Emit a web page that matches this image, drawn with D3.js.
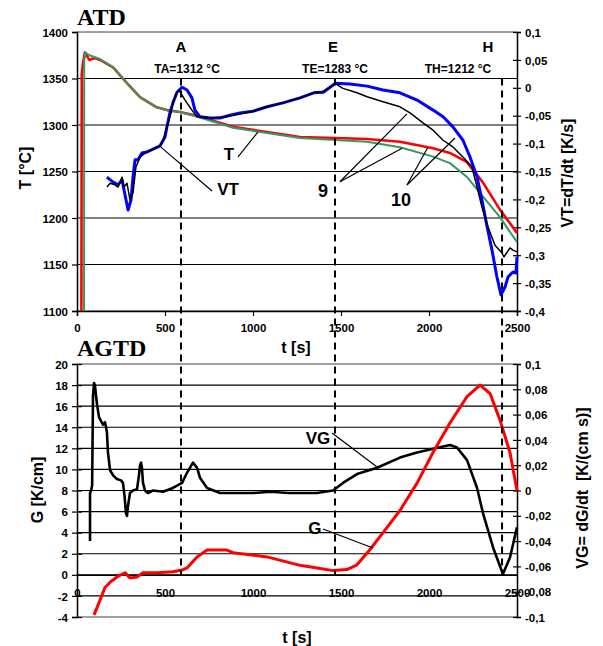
<!DOCTYPE html>
<html>
<head>
<meta charset="utf-8">
<script src="https://cdn.jsdelivr.net/npm/d3@7/dist/d3.min.js"></script>
<style>
  body { margin: 0; background: #fff; }
  text { font-family: "Liberation Sans", Arial, sans-serif; font-weight: bold; fill: #000; }
  .ttl { font-family: "Liberation Serif", "Times New Roman", serif; font-size: 24px; }
  .tick text { font-size: 11.5px; }
</style>
</head>
<body>
<svg width="603" height="646"></svg>
<script>
// --- data ---
var xTicks = [0, 500, 1000, 1500, 2000, 2500];
var tTicks = [1100, 1150, 1200, 1250, 1300, 1350, 1400];
var vtTicks = [0.1, 0.05, 0, -0.05, -0.1, -0.15, -0.2, -0.25, -0.3, -0.35, -0.4];
var gTicks = [-4, -2, 0, 2, 4, 6, 8, 10, 12, 14, 16, 18, 20];
var vgTicks = [0.1, 0.08, 0.06, 0.04, 0.02, 0, -0.02, -0.04, -0.06, -0.08, -0.1];

// characteristic points A, E, H
var markerNames = ["A", "E", "H"];
var markerTimes = [591, 1466, 2415];
var markerTemps = [1312, 1283, 1212];

// temperature curves T (left axis, top)
var redTime = [25, 27, 33, 45, 70, 100, 131, 205, 284, 358, 453, 511, 585, 699, 886, 1023, 1267, 1466, 1648, 1835, 2023, 2119, 2216, 2307, 2403, 2500];
var redTemp = [1100, 1355, 1365, 1378, 1370, 1372, 1370, 1362, 1345, 1330, 1319, 1316, 1314, 1309, 1298, 1294, 1287, 1286, 1285, 1282, 1275, 1270, 1260, 1238, 1209, 1184];
var greenTime = [40, 41, 48, 70, 131, 205, 284, 358, 453, 511, 585, 699, 886, 1023, 1267, 1466, 1648, 1835, 2023, 2119, 2216, 2307, 2403, 2500];
var greenTemp = [1100, 1370, 1378, 1375, 1371, 1362, 1345, 1330, 1319, 1316, 1314, 1308, 1297, 1293, 1286, 1284, 1282, 1276, 1266, 1259, 1244, 1223, 1201, 1174];

// cooling rate VT (right axis, top)
var vtBlueTime = [170, 205, 233, 256, 273, 290, 307, 318, 330, 347, 369, 398, 432, 472, 500, 511, 528, 545, 568, 597, 625, 653, 670, 699, 756, 813, 869, 926, 1000, 1080, 1170, 1267, 1345, 1400, 1455, 1466, 1551, 1648, 1739, 1835, 1932, 2023, 2080, 2136, 2193, 2233, 2273, 2301, 2330, 2358, 2386, 2409, 2432, 2449, 2477, 2494, 2500];
var vtBlue = [-0.160, -0.169, -0.174, -0.165, -0.192, -0.219, -0.201, -0.160, -0.129, -0.129, -0.117, -0.115, -0.110, -0.104, -0.088, -0.070, -0.045, -0.027, -0.008, 0.001, -0.004, -0.018, -0.040, -0.052, -0.054, -0.054, -0.049, -0.045, -0.042, -0.034, -0.027, -0.018, -0.009, -0.008, 0.005, 0.008, 0.007, 0.003, -0.004, -0.009, -0.022, -0.040, -0.052, -0.070, -0.094, -0.124, -0.160, -0.201, -0.249, -0.291, -0.339, -0.371, -0.357, -0.339, -0.330, -0.332, -0.303];
var vtBlackTime = [170, 188, 216, 233, 256, 267, 284, 301, 318, 335, 358, 398, 472, 489, 511, 534, 545, 568, 580, 614, 653, 682, 756, 852, 926, 1000, 1080, 1170, 1267, 1345, 1400, 1455, 1466, 1511, 1591, 1648, 1739, 1835, 1892, 1966, 2023, 2080, 2136, 2193, 2244, 2273, 2301, 2335, 2375, 2415, 2426, 2460, 2477, 2500];
var vtBlack = [-0.178, -0.171, -0.174, -0.178, -0.160, -0.178, -0.171, -0.201, -0.189, -0.142, -0.124, -0.115, -0.104, -0.094, -0.070, -0.045, -0.027, -0.009, -0.004, -0.022, -0.040, -0.052, -0.054, -0.052, -0.047, -0.042, -0.034, -0.027, -0.018, -0.009, -0.006, 0.005, 0.008, -0.001, -0.009, -0.016, -0.025, -0.034, -0.045, -0.063, -0.076, -0.094, -0.106, -0.124, -0.142, -0.178, -0.214, -0.249, -0.282, -0.296, -0.303, -0.287, -0.291, -0.294];

// gradient G (left axis, bottom)
var gTime = [97, 131, 159, 188, 227, 273, 290, 301, 341, 375, 455, 545, 597, 625, 682, 739, 852, 886, 1080, 1267, 1364, 1455, 1534, 1591, 1665, 1739, 1835, 1932, 2023, 2119, 2216, 2290, 2347, 2403, 2460, 2500];
var gValues = [-3.8, -2.4, -1.2, -0.7, -0.2, 0.2, -0.1, -0.3, -0.2, 0.2, 0.2, 0.3, 0.45, 0.65, 1.7, 2.35, 2.35, 2.1, 1.7, 0.9, 0.65, 0.4, 0.5, 0.95, 2.4, 4.0, 6.1, 8.7, 11.6, 14.4, 16.9, 18.0, 17.2, 14.7, 11.6, 8.0];

// gradient rate VG (right axis, bottom)
var vgTime = [74, 74, 80, 86, 91, 97, 102, 108, 114, 125, 136, 148, 159, 165, 170, 176, 188, 205, 227, 250, 261, 270, 278, 284, 290, 301, 318, 341, 352, 358, 364, 369, 375, 386, 403, 432, 489, 545, 597, 625, 659, 682, 699, 739, 813, 900, 1000, 1100, 1200, 1300, 1364, 1455, 1511, 1591, 1705, 1835, 1932, 2023, 2119, 2159, 2216, 2273, 2307, 2364, 2420, 2460, 2500];
var vgValues = [-0.040, -0.002, 0.0, 0.004, 0.075, 0.085, 0.083, 0.075, 0.068, 0.058, 0.055, 0.052, 0.054, 0.050, 0.046, 0.030, 0.016, 0.012, 0.009, 0.008, 0.006, -0.004, -0.018, -0.020, -0.012, -0.002, 0.0, 0.001, 0.012, 0.020, 0.022, 0.018, 0.006, 0.0, -0.002, 0.0, -0.001, 0.002, 0.006, 0.014, 0.022, 0.018, 0.010, 0.002, -0.002, -0.002, -0.002, -0.001, -0.002, -0.002, -0.002, 0.0, 0.006, 0.013, 0.018, 0.026, 0.030, 0.033, 0.036, 0.034, 0.024, 0.002, -0.018, -0.045, -0.066, -0.053, -0.029];

// --- layout ---
var svg = d3.select("svg"),
    left = 77, right = 517,
    top1 = 32, bottom1 = 311,
    top2 = 364, bottom2 = 617;

var x = d3.scaleLinear().domain([0, 2500]).range([left, right]),
    yT = d3.scaleLinear().domain([1100, 1400]).range([bottom1, top1]),
    yVT = d3.scaleLinear().domain([-0.4, 0.1]).range([bottom1, top1]),
    yG = d3.scaleLinear().domain([-4, 20]).range([bottom2, top2]),
    yVG = d3.scaleLinear().domain([-0.1, 0.1]).range([bottom2, top2]);

function comma(v) {
  return String(+v.toFixed(2)).replace(".", ",");
}
function plain(v) { return String(v); }

// gridlines
function grid(scale, ticks, lo, hi) {
  svg.append("g").selectAll("line").data(ticks).enter().append("line")
      .attr("x1", left).attr("x2", right)
      .attr("y1", function(d){return scale(d);})
      .attr("y2", function(d){return scale(d);})
      .attr("stroke", function(d){return (d === lo || d === hi) ? "#808080" : "#000";})
      .attr("stroke-width", function(d){return (d === lo || d === hi) ? 1.6 : 1.1;});
}
grid(yT, tTicks, 1100, 1400);
grid(yG, gTicks, -4, 20);

// axes
function styleAxis(g, cross) {
  g.select(".domain").attr("stroke", "#000").attr("stroke-width", 1.5);
  g.selectAll(".tick line").attr("stroke", "#000").attr("stroke-width", 1.2);
  if (cross) g.selectAll(".tick line").attr("x1", -cross).attr("x2", cross);
}

var axT = svg.append("g").attr("transform", "translate(" + left + ",0)")
    .call(d3.axisLeft(yT).tickValues(tTicks).tickSizeOuter(0).tickSize(5).tickPadding(4).tickFormat(plain));
styleAxis(axT);
axT.selectAll(".tick text").attr("dy", "0.36em");

var axVT = svg.append("g").attr("transform", "translate(" + right + ",0)")
    .call(d3.axisRight(yVT).tickValues(vtTicks).tickSizeOuter(0).tickSize(4).tickPadding(4).tickFormat(comma));
styleAxis(axVT, 4);
axVT.selectAll(".tick text").attr("x", 8).attr("dy", "0.36em");

var axX1 = svg.append("g").attr("transform", "translate(0," + bottom1 + ")")
    .call(d3.axisBottom(x).tickValues(xTicks).tickSizeOuter(0).tickSize(5).tickFormat(plain));
styleAxis(axX1);
axX1.selectAll(".tick text").attr("y", 17).attr("dy", "0.36em");

var axG = svg.append("g").attr("transform", "translate(" + left + ",0)")
    .call(d3.axisLeft(yG).tickValues(gTicks).tickSizeOuter(0).tickSize(5).tickPadding(4).tickFormat(plain));
styleAxis(axG, 5);
axG.selectAll(".tick text").attr("x", -9).attr("dy", "0.36em");

var axVG = svg.append("g").attr("transform", "translate(" + right + ",0)")
    .call(d3.axisRight(yVG).tickValues(vgTicks).tickSizeOuter(0).tickSize(4).tickPadding(4).tickFormat(comma));
styleAxis(axVG, 4);
axVG.selectAll(".tick text").attr("x", 8).attr("dy", "0.36em");

var axX2 = svg.append("g").attr("transform", "translate(0," + yG(0) + ")")
    .call(d3.axisBottom(x).tickValues(xTicks).tickSize(0).tickFormat(plain));
axX2.select(".domain").attr("stroke", "#000").attr("stroke-width", 1.2);
axX2.selectAll(".tick text").attr("y", 18).attr("dy", "0.36em");

// curves
function curve(times, values, ys, color, w) {
  var line = d3.line()
      .x(function(d){return x(d[0]);})
      .y(function(d){return ys(d[1]);});
  svg.append("path")
      .attr("d", line(d3.zip(times, values)))
      .attr("fill", "none")
      .attr("stroke", color)
      .attr("stroke-width", w)
      .attr("stroke-linejoin", "round");
}
curve(redTime, redTemp, yT, "#ff0000", 2.6);
curve(greenTime, greenTemp, yT, "#339966", 2);
curve(vtBlueTime, vtBlue, yVT, "#0000ff", 3);
curve(vtBlackTime, vtBlack, yVT, "#000", 1.5);
curve(vgTime, vgValues, yVG, "#000", 2.6);
curve(gTime, gValues, yG, "#ff0000", 3);

// dashed marker lines A, E, H
svg.append("g").selectAll("line").data(markerTimes).enter().append("line")
    .attr("x1", function(d){return x(d);}).attr("x2", function(d){return x(d);})
    .attr("y1", yT(1350)).attr("y2", yG(0))
    .attr("stroke", "#000").attr("stroke-width", 2)
    .attr("stroke-dasharray", "7,5");

var nameDx = [0, -2, -14], tempDx = [6, 0, -44];
markerNames.forEach(function(n, i) {
  svg.append("text").attr("x", x(markerTimes[i]) + nameDx[i]).attr("y", 47)
      .attr("dy", "0.36em").attr("text-anchor", "middle")
      .style("font-size", "15px").text(n);
  svg.append("text").attr("x", x(markerTimes[i]) + tempDx[i]).attr("y", 69)
      .attr("dy", "0.36em").attr("text-anchor", "middle")
      .style("font-size", "12px").text("T" + n + "=" + markerTemps[i] + " °C");
});

// leader labels (positions given in data units of the left axes)
function label(txt, t, v, ys, size) {
  svg.append("text").attr("x", x(t)).attr("y", ys(v)).attr("dy", "0.36em")
      .attr("text-anchor", "middle").style("font-size", size + "px").text(txt);
}
function leader(t1, v1, t2, v2, ys) {
  svg.append("line").attr("x1", x(t1)).attr("y1", ys(v1)).attr("x2", x(t2)).attr("y2", ys(v2))
      .attr("stroke", "#000").attr("stroke-width", 1.2);
}
label("T", 864, 1268.8, yT, 17);
leader(915, 1265.6, 1028, 1292.5, yT);
label("VT", 858, 1231, yT, 17);
leader(767, 1229, 472, 1277, yT);
label("9", 1398, 1230, yT, 18);
leader(1494, 1239, 1875, 1312, yT);
leader(1494, 1239, 1847, 1275, yT);
label("10", 1841, 1220, yT, 18);
leader(1875, 1235.5, 1994, 1276, yT);
leader(1875, 1235.5, 2148, 1286, yT);
label("VG", 1369, 13.03, yG, 17);
leader(1449, 13.45, 1705, 10.23, yG);
label("G", 1352, 4.44, yG, 17);
leader(1398, 4.35, 1682, 2.55, yG);

// titles
svg.append("text").attr("class", "ttl").attr("x", left).attr("y", 25).text("ATD");
svg.append("text").attr("class", "ttl").attr("x", left).attr("y", 356).text("AGTD");

function vtitle(txt, cx, cy) {
  svg.append("text").attr("transform", "translate(" + cx + "," + cy + ") rotate(-90)")
      .attr("text-anchor", "middle").attr("dy", "0.36em")
      .style("font-size", "16px").style("white-space", "pre").text(txt);
}
vtitle("T [°C]", 25, 168);
vtitle("VT=dT/dt [K/s]", 567, 173);
vtitle("G [K/cm]", 37, 490);
vtitle("VG= dG/dt  [K/(cm s)]", 582, 488);

svg.append("text").attr("x", 296).attr("y", 347).attr("dy", "0.36em")
    .attr("text-anchor", "middle").style("font-size", "16px").text("t [s]");
svg.append("text").attr("x", 297).attr("y", 637).attr("dy", "0.36em")
    .attr("text-anchor", "middle").style("font-size", "16px").text("t [s]");
</script>
</body>
</html>
